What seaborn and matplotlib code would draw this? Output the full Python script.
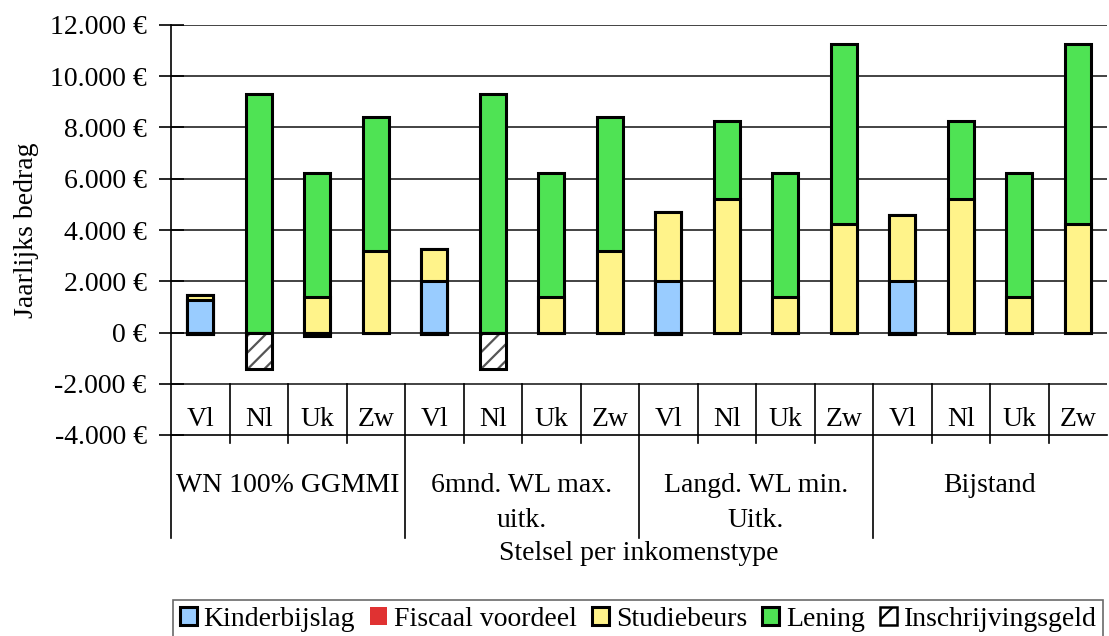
import numpy as np
import pandas as pd
import seaborn as sns
import matplotlib.pyplot as plt
import matplotlib.patches as mpatches
import matplotlib.transforms as mtransforms

# data (EUR per year)
landen = ['Vl', 'Nl', 'Uk', 'Zw']
groepen = ['WN 100% GGMMI', '6mnd. WL max.\nuitk.', 'Langd. WL min.\nUitk.', 'Bijstand']

kinderbijslag = [1250, 0, 0, 0,   2000, 0, 0, 0,   2000, 0, 0, 0,   2000, 0, 0, 0]
fiscaal_voordeel = [-40, 0, 0, 0,  -40, 0, 0, 0,  -40, 0, 0, 0,  -40, 0, 0, 0]
studiebeurs = [230, 0, 1380, 3200,   1240, 0, 1380, 3200,   2700, 5200, 1380, 4250,   2570, 5200, 1380, 4250]
lening = [0, 9320, 4840, 5220,   0, 9320, 4840, 5220,   0, 3050, 4840, 6990,   0, 3050, 4840, 6990]
inschrijvingsgeld = [0, -1420, -130, 0,   0, -1420, 0, 0,   0, 0, 0, 0,   0, 0, 0, 0]

kleuren = {'Kinderbijslag': '#99ccff', 'Fiscaal voordeel': '#e03232',
           'Studiebeurs': '#fff38a', 'Lening': '#4fe354',
           'Inschrijvingsgeld': 'white'}

n = len(groepen) * len(landen)
df = pd.DataFrame({
    'pos': np.arange(n),
    'Kinderbijslag': kinderbijslag,
    'Fiscaal voordeel': fiscaal_voordeel,
    'Studiebeurs': studiebeurs,
    'Lening': lening,
    'Inschrijvingsgeld': inschrijvingsgeld,
})
# cumulative tops for stacking (draw tallest first)
df['top_kb'] = df['Kinderbijslag']
df['top_sb'] = df['top_kb'] + df['Studiebeurs']
df['top_len'] = df['top_sb'] + df['Lening']
df['neg_fv'] = df['Fiscaal voordeel']
df['neg_ins'] = df['neg_fv'] + df['Inschrijvingsgeld']

plt.rcParams['font.family'] = ['Liberation Serif', 'DejaVu Serif']
plt.rcParams['hatch.linewidth'] = 1.6

fig = plt.figure(figsize=(11.09, 6.36), dpi=100)
ax = fig.add_axes([171 / 1109, 1 - 435 / 636, 936 / 1109, 410 / 636])

bw = 0.44
lw = 2.2
order = list(df['pos'])
common = dict(x='pos', order=order, width=bw, ax=ax, edgecolor='black',
              linewidth=lw, zorder=3, saturation=1)

sns.barplot(data=df, y='top_len', color=kleuren['Lening'], **common)
sns.barplot(data=df, y='top_sb', color=kleuren['Studiebeurs'], **common)
sns.barplot(data=df, y=np.where(df['top_kb'] != 0, df['top_kb'], np.nan),
            color=kleuren['Kinderbijslag'], **common)
# negative parts
neg = np.where(df['neg_ins'] != 0, df['neg_ins'], np.nan)
sns.barplot(data=df, y=neg, color='white', hatch='//',
            **{**common, 'edgecolor': '#555555', 'linewidth': 0})
sns.barplot(data=df, y=neg, fill=False, **common)
sns.barplot(data=df, y=np.where(df['neg_fv'] != 0, df['neg_fv'], np.nan),
            color=kleuren['Fiscaal voordeel'], **common)

ax.set_ylim(-4000, 12000)
ax.set_xlim(-0.5, n - 0.5)
ax.set_yticks(np.arange(-4000, 12001, 2000))
ax.set_yticklabels([('%s €' % format(v, ',').replace(',', '.')) for v in range(-4000, 12001, 2000)],
                   fontsize=20)
ax.tick_params(axis='y', direction='inout', length=18, width=1.2, pad=8.5)
ax.set_xticks([])
ax.set_xlabel('')
ax.set_ylabel('Jaarlijks bedrag', fontsize=20, labelpad=8)
for g in np.arange(-2000, 12001, 2000):
    ax.axhline(g, color='#222222', linewidth=1.2, zorder=1)

for s in ['top', 'right', 'left']:
    ax.spines[s].set_visible(False)
ax.spines['bottom'].set_linewidth(1.2)

# left axis line, extended down to frame the group labels
ax.plot([0, 0], [1, -0.251], transform=ax.transAxes, color='black', lw=1.2, clip_on=False)

trans = mtransforms.blended_transform_factory(ax.transData, ax.transAxes)
px = 1 / 410  # one pixel in axes units

# country labels and separators
for i in range(n):
    ax.text(i, -3400, landen[i % 4], ha='center', va='center', fontsize=20)
for i in range(1, n):
    ybot = -0.251 if i % 4 == 0 else -8 * px
    ax.plot([i - 0.5, i - 0.5], [0.125, ybot], transform=trans, color='black',
            lw=1.2, clip_on=False)

# group labels
for k, g in enumerate(groepen):
    ax.text(4 * k + 1.5, -38 * px, g, transform=trans, ha='center', va='top',
            fontsize=20, linespacing=1.55)

ax.text(0.5, -118 * px, 'Stelsel per inkomenstype', transform=ax.transAxes,
        ha='center', va='center', fontsize=20)

handles = [
    mpatches.Patch(facecolor=kleuren['Kinderbijslag'], edgecolor='black', linewidth=2.2),
    mpatches.Patch(facecolor=kleuren['Fiscaal voordeel'], edgecolor=kleuren['Fiscaal voordeel'], linewidth=0),
    mpatches.Patch(facecolor=kleuren['Studiebeurs'], edgecolor='black', linewidth=2.2),
    mpatches.Patch(facecolor=kleuren['Lening'], edgecolor='black', linewidth=2.2),
    mpatches.Patch(facecolor='white', edgecolor='black', linewidth=1.8, hatch='/'),
]
leg = fig.legend(handles, list(kleuren.keys()), loc='upper left',
                 bbox_to_anchor=(173 / 1109, 1 - 600 / 636), ncol=5, fontsize=20,
                 frameon=True, fancybox=False, edgecolor='#444444',
                 handlelength=0.6, handleheight=0.6, handletextpad=0.25,
                 columnspacing=0.55, borderpad=0.25, borderaxespad=0)
leg.get_frame().set_linewidth(1.2)

fig.savefig('out.png', dpi=100)
